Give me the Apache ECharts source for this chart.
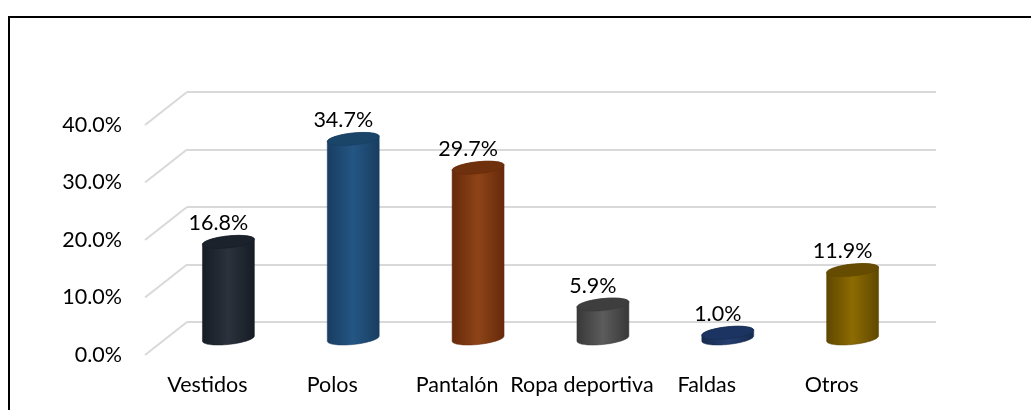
<!DOCTYPE html>
<html>
<head>
<meta charset="utf-8">
<script src="https://cdn.jsdelivr.net/npm/echarts@6/dist/echarts.min.js"></script>
<style>
html,body{margin:0;padding:0;background:#fff;}
#chart{width:1031px;height:410px;}
</style>
</head>
<body>
<div id="chart"></div>
<script>
// ---- data ----
const categories = ['Vestidos', 'Polos', 'Pantalón', 'Ropa deportiva', 'Faldas', 'Otros'];
const values = [16.8, 34.7, 29.7, 5.9, 1.0, 11.9];
const yTicks = [0, 10, 20, 30, 40];

// ---- styling (colours per bar: edge, centre, top) ----
const barColors = [
  ['#161c24', '#2a323d', '#1b222b'],
  ['#183d60', '#245684', '#1b4469'],
  ['#66290a', '#8e4417', '#6f300d'],
  ['#383838', '#5c5c5c', '#3e3e3e'],
  ['#172b4e', '#243f70', '#1c3461'],
  ['#5f4700', '#8d6b02', '#654c00']
];
const FONT = 'Lato, "Open Sans", sans-serif';
const FS = 21.5;
const DEPTH_X = 42, DEPTH_Y = 33;

const chart = echarts.init(document.getElementById('chart'));

function cylinder(params, api) {
  const idx = api.value(0), v = api.value(1);
  const base = api.coord([idx, 0]);
  const top = api.coord([idx, v]);
  const bw = api.size([1, 0])[0];
  const rx = bw * 0.208;
  const ry = 6;
  const k = 0.1;
  const cx = base[0] - DEPTH_X / 2;
  const yb = base[1] + DEPTH_Y / 2;
  const yt = top[1] + DEPTH_Y / 2;
  const pt = (yc, t) => {
    const c = Math.cos(t), s = Math.sin(t);
    return [cx + rx * c, yc + ry * s - k * rx * c];
  };
  const N = 40;
  const body = [];
  for (let i = 0; i <= N; i++) body.push(pt(yt, Math.PI + Math.PI * i / N));
  for (let i = 0; i <= N; i++) body.push(pt(yb, Math.PI * i / N));
  const topPts = [];
  for (let i = 0; i < 2 * N; i++) topPts.push(pt(yt, 2 * Math.PI * i / (2 * N)));
  const col = barColors[idx];
  const grad = {
    type: 'linear', x: 0, y: 0, x2: 1, y2: 0,
    colorStops: [
      { offset: 0, color: col[0] },
      { offset: 0.5, color: col[1] },
      { offset: 1, color: col[0] }
    ]
  };
  return {
    type: 'group',
    children: [
      { type: 'polygon', shape: { points: body }, style: { fill: grad, stroke: col[0], lineWidth: 0.5 } },
      { type: 'polygon', shape: { points: topPts }, style: { fill: col[2], stroke: col[0], lineWidth: 0.5 } },
      {
        type: 'text',
        style: {
          text: v.toFixed(1) + '%',
          x: cx - 10, y: yt - 19,
          align: 'center', verticalAlign: 'middle',
          fill: '#000', font: FS + 'px ' + FONT
        }
      }
    ]
  };
}

function diagonal(params, api) {
  const v = api.value(1);
  const p = api.coord([0, v]);
  const x0 = params.coordSys.x;
  return {
    type: 'line',
    shape: { x1: x0 - DEPTH_X, y1: p[1] + DEPTH_Y, x2: x0, y2: p[1] },
    style: { stroke: '#d9d9d9', lineWidth: 2 }
  };
}

const option = {
  animation: false,
  backgroundColor: '#fff',
  graphic: [{
    type: 'rect',
    shape: { x: 9, y: 17, width: 1200, height: 600 },
    style: { fill: 'none', stroke: '#000', lineWidth: 2 },
    z: 100
  }],
  grid: [
    { left: 187, right: 95, top: 92, bottom: 88 },   // back plane
    { left: 145, right: 137, top: 125, bottom: 55 }  // front plane (labels)
  ],
  xAxis: [
    { gridIndex: 0, type: 'category', data: categories, show: false },
    {
      gridIndex: 1, type: 'category', data: categories,
      axisLine: { show: false }, axisTick: { show: false },
      axisLabel: { margin: 19, color: '#000', fontSize: FS, fontFamily: FONT, interval: 0 }
    }
  ],
  yAxis: [
    {
      gridIndex: 0, type: 'value', min: 0, max: 40, interval: 10,
      axisLine: { show: false }, axisTick: { show: false }, axisLabel: { show: false },
      splitLine: { lineStyle: { color: '#d9d9d9', width: 2 } }
    },
    {
      gridIndex: 1, type: 'value', min: 0, max: 40, interval: 10,
      axisLine: { show: false }, axisTick: { show: false }, splitLine: { show: false },
      axisLabel: {
        margin: 23, color: '#000', fontSize: FS, fontFamily: FONT,
        formatter: v => v.toFixed(1) + '%'
      }
    }
  ],
  series: [
    {
      type: 'custom', xAxisIndex: 0, yAxisIndex: 0,
      renderItem: diagonal,
      data: yTicks.map(t => [0, t]),
      silent: true
    },
    {
      type: 'custom', xAxisIndex: 0, yAxisIndex: 0,
      renderItem: cylinder,
      data: values.map((v, i) => [i, v]),
      z: 5
    }
  ]
};
chart.setOption(option);
</script>
</body>
</html>
